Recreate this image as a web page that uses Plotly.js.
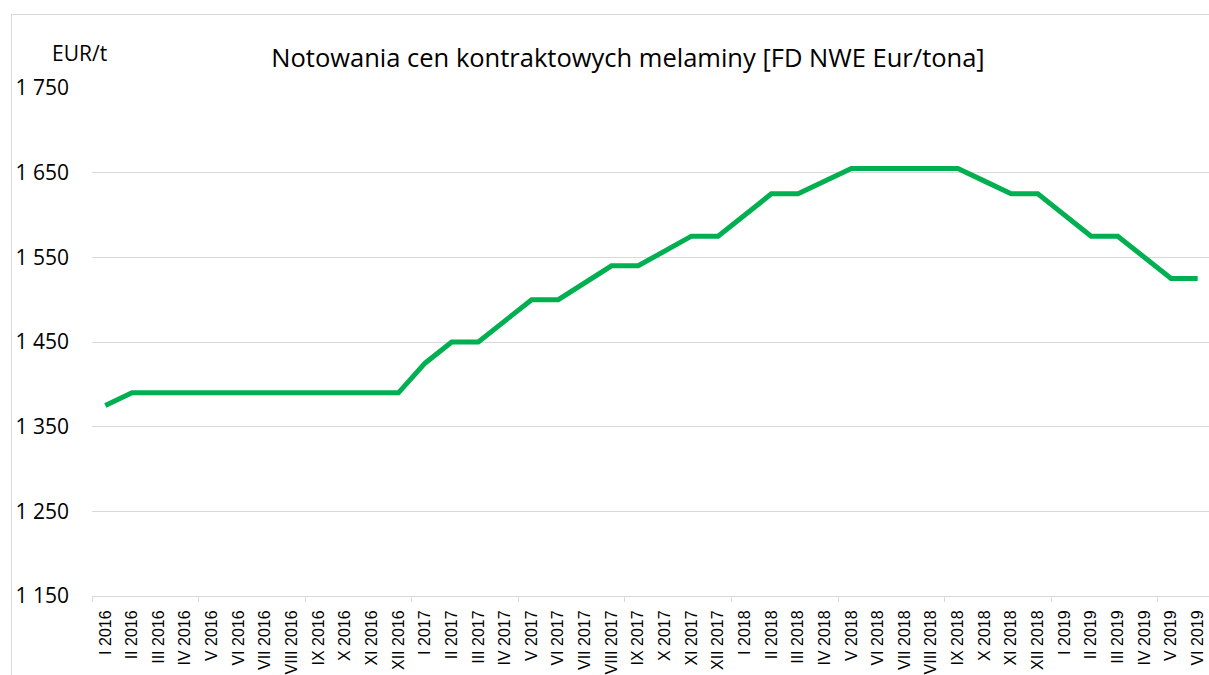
<!DOCTYPE html>
<html>
<head>
<meta charset="utf-8">
<script src="https://cdn.plot.ly/plotly-3.0.1.min.js"></script>
<style>
html, body { margin: 0; padding: 0; overflow: hidden; background: #fff; }
#frame { position: absolute; left: 11px; top: 14px; width: 1400px; height: 900px; border: 1px solid #d9d9d9; box-sizing: border-box; }
#chart { position: absolute; left: 0; top: 0; width: 1211px; height: 675px; }
</style>
</head>
<body>
<div id="frame"></div>
<div id="chart"></div>
<script>
const months = ["I 2016","II 2016","III 2016","IV 2016","V 2016","VI 2016","VII 2016","VIII 2016","IX 2016","X 2016","XI 2016","XII 2016",
"I 2017","II 2017","III 2017","IV 2017","V 2017","VI 2017","VII 2017","VIII 2017","IX 2017","X 2017","XI 2017","XII 2017",
"I 2018","II 2018","III 2018","IV 2018","V 2018","VI 2018","VII 2018","VIII 2018","IX 2018","X 2018","XI 2018","XII 2018",
"I 2019","II 2019","III 2019","IV 2019","V 2019","VI 2019"];
const prices = [1375,1390,1390,1390,1390,1390,1390,1390,1390,1390,1390,1390,
1425,1450,1450,1475,1500,1500,1520,1540,1540,1557.5,1575,1575,
1600,1625,1625,1640,1655,1655,1655,1655,1655,1640,1625,1625,
1600,1575,1575,1550,1525,1525];
const yTickVals = [1150,1250,1350,1450,1550,1650,1750];
const yTickText = ["1 150","1 250","1 350","1 450","1 550","1 650","1 750"];
const titleText = "Notowania cen kontraktowych melaminy [FD NWE Eur/tona]";
const unitLabel = "EUR/t";

const idx = months.map((m, i) => i);
const boundaries = [];
for (let i = 0; i <= months.length; i += 4) boundaries.push(i - 0.5);

const traces = [
  {
    x: idx, y: prices, type: "scatter", mode: "lines",
    line: { color: "#00b050", width: 5 },
    hoverinfo: "y", showlegend: false
  },
  {
    x: [0], y: [1150], xaxis: "x2", type: "scatter", mode: "markers",
    marker: { opacity: 0 }, hoverinfo: "skip", showlegend: false
  }
];

const layout = {
  width: 1211, height: 675,
  margin: { l: 92, r: 0, t: 88, b: 79 },
  paper_bgcolor: "rgba(0,0,0,0)", plot_bgcolor: "rgba(0,0,0,0)",
  showlegend: false,
  title: {
    text: titleText, xref: "container", yref: "container",
    x: 0.5186, xanchor: "center", y: 0.914, yanchor: "middle",
    font: { family: "Open Sans, sans-serif", size: 25.5, color: "#000" }
  },
  xaxis: {
    type: "linear", range: [-0.5, months.length - 0.5],
    tickvals: idx, ticktext: months, tickangle: -90,
    ticks: "", showgrid: false, zeroline: false,
    showline: true, linecolor: "#d9d9d9", linewidth: 1,
    ticklabelstandoff: 7,
    tickfont: { family: "Liberation Sans, Arial, sans-serif", size: 16, color: "#000" }
  },
  xaxis2: {
    type: "linear", overlaying: "x", anchor: "y", side: "bottom",
    range: [-0.5, months.length - 0.5],
    tickvals: boundaries, ticks: "outside", ticklen: 5, tickwidth: 1, tickcolor: "#d9d9d9",
    showticklabels: false, showgrid: false, zeroline: false, showline: false
  },
  yaxis: {
    range: [1150, 1750], tickvals: yTickVals, ticktext: yTickText,
    showgrid: true, gridcolor: "#d9d9d9", gridwidth: 1, zeroline: false,
    showline: false, ticks: "", ticklabelstandoff: 22,
    tickfont: { family: "Open Sans, sans-serif", size: 21, color: "#000" }
  },
  annotations: [
    {
      text: unitLabel, xref: "paper", yref: "paper", x: -0.011, y: 1.068,
      xanchor: "center", yanchor: "middle", showarrow: false,
      font: { family: "Open Sans, sans-serif", size: 21, color: "#000" }
    }
  ]
};

Plotly.newPlot("chart", traces, layout, { displayModeBar: false, staticPlot: true });
</script>
</body>
</html>
